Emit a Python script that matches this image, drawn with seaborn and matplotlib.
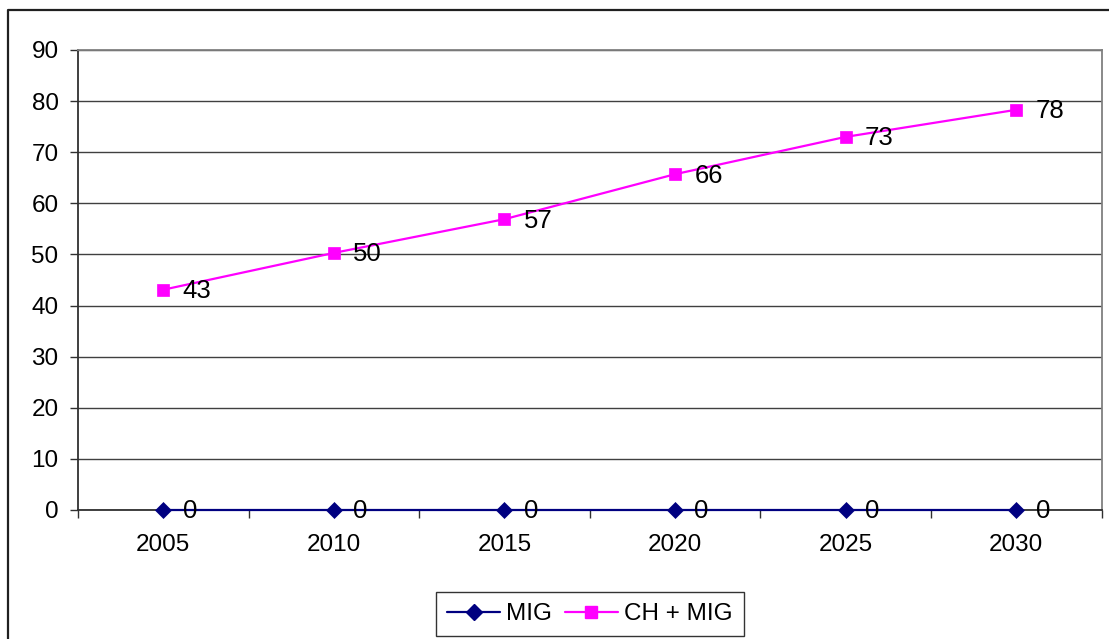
import matplotlib
matplotlib.use("Agg")
import matplotlib.pyplot as plt
import matplotlib.lines as mlines
import numpy as np
import pandas as pd
import seaborn as sns

# Data
years = ["2005", "2010", "2015", "2020", "2025", "2030"]
mig = [0, 0, 0, 0, 0, 0]
ch_mig = [43.1, 50.3, 56.9, 65.7, 73.0, 78.3]
series_names = ["MIG", "CH + MIG"]

sns.set_theme(style="white")
plt.rcParams["font.family"] = ["Liberation Sans", "DejaVu Sans"]

W, H = 1109, 639
fig = plt.figure(figsize=(W / 100, H / 100), dpi=100)
fig.patch.set_facecolor("white")

# Plot area in pixel terms
left, right, top, bottom = 78, 1101.5, 50, 510
ax = fig.add_axes([left / W, 1 - bottom / H, (right - left) / W, (bottom - top) / H])

pos = np.arange(len(years))
df = pd.DataFrame({"pos": np.concatenate([pos, pos]),
                   "value": mig + ch_mig,
                   "series": [series_names[0]] * len(years) + [series_names[1]] * len(years)})

styles = {
    "MIG": dict(color="#000080", marker="D", ms=8.5),
    "CH + MIG": dict(color="#FF00FF", marker="s", ms=8),
}

for name in series_names:
    st = styles[name]
    sub = df[df["series"] == name]
    sns.lineplot(data=sub, x="pos", y="value", ax=ax, color=st["color"],
                 marker=st["marker"], markersize=st["ms"], markeredgecolor=st["color"],
                 markerfacecolor=st["color"], markeredgewidth=0.5, linewidth=1.6,
                 legend=False, zorder=3, clip_on=False)
    for x, v in zip(sub["pos"], sub["value"]):
        ax.annotate(f"{v:.0f}", (x, v), xytext=(14, -1), textcoords="offset points",
                    ha="left", va="center", fontsize=18.5, color="black", zorder=4)

ax.set_xlim(-0.5, len(years) - 0.5)
ax.set_ylim(0, 90)
ax.set_yticks(np.arange(0, 91, 10))
ax.set_xticks(pos)
ax.set_xticklabels(years)
ax.set_xticks(np.arange(-0.5, len(years)), minor=True)
ax.set_xlabel("")
ax.set_ylabel("")

ax.grid(axis="y", color="#404040", linewidth=1.0, zorder=0)
ax.grid(axis="x", visible=False)
ax.set_axisbelow(True)

for s in ["left", "bottom"]:
    ax.spines[s].set_color("#303030")
    ax.spines[s].set_linewidth(1.3)
for s in ["top", "right"]:
    ax.spines[s].set_color("#808080")
    ax.spines[s].set_linewidth(1.3)

ax.tick_params(axis="y", which="major", direction="out", length=6, width=1, color="#303030",
               pad=8, labelsize=17.5, left=True)
ax.tick_params(axis="x", which="major", length=0, pad=17, labelsize=17.5)
ax.tick_params(axis="x", which="minor", direction="out", length=6, width=1, color="#303030",
               bottom=True)
for lbl in ax.get_xticklabels() + ax.get_yticklabels():
    lbl.set_color("black")

# Legend centred under the plot area
handles = [mlines.Line2D([], [], color=styles[n]["color"], marker=styles[n]["marker"],
                         markersize=styles[n]["ms"], markeredgecolor=styles[n]["color"],
                         linewidth=1.6) for n in series_names]
leg = fig.legend(handles, series_names, loc="center",
                 bbox_to_anchor=(((left + right) / 2) / W, 1 - 614 / H),
                 ncol=2, frameon=True, fancybox=False, fontsize=17.5,
                 handlelength=2.2, handletextpad=0.25, columnspacing=0.5,
                 borderpad=0.45, borderaxespad=0)
leg.get_frame().set_edgecolor("black")
leg.get_frame().set_linewidth(1.0)
for t in leg.get_texts():
    t.set_color("black")

# Outer chart frame (left and top edges visible)
fig.add_artist(mlines.Line2D([8 / W, 8 / W, 1.0], [0.0, 1 - 10 / H, 1 - 10 / H],
                             transform=fig.transFigure, color="#202020", linewidth=1.6))

fig.savefig("out.png", dpi=100)
